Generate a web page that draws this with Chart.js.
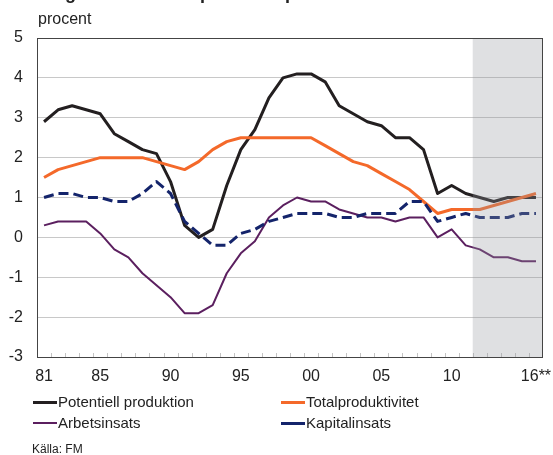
<!DOCTYPE html>
<html lang="sv">
<head>
<meta charset="UTF-8">
<title>Potentiell produktion</title>
<style>
body {
  margin: 0;
  background: #fff;
  font-family: "Liberation Sans", Arial, sans-serif;
  color: #222;
}
#wrap {
  position: relative;
  width: 553px;
  height: 455px;
  overflow: hidden;
}
#wrap canvas {
  position: absolute;
  left: 0;
  top: 0;
}
.title {
  position: absolute;
  left: 19px;
  top: -16px;
  font-size: 18px;
  line-height: 18px;
  font-weight: bold;
  white-space: nowrap;
}
.unit {
  position: absolute;
  left: 38px;
  top: 10px;
  font-size: 16px;
}
.legend-item {
  position: absolute;
  font-size: 15px;
  line-height: 18px;
  white-space: nowrap;
}
.legend-item i {
  display: inline-block;
  width: 24px;
  vertical-align: middle;
  margin-right: 1px;
  position: relative;
  top: -1px;
}
.source {
  position: absolute;
  left: 32px;
  top: 442px;
  font-size: 12px;
}
</style>
</head>
<body>
<div id="wrap">
  <canvas id="chart" width="553" height="455"></canvas>
  <div class="title">Bidrag till tillväxten i potentiell produktion</div>
  <div class="unit">procent</div>
  <div class="legend-item" style="left:33px; top:393px;"><i style="border-top:3px solid #231f20;"></i>Potentiell produktion</div>
  <div class="legend-item" style="left:281px; top:393px;"><i style="border-top:3px solid #f4692a;"></i>Totalproduktivitet</div>
  <div class="legend-item" style="left:33px; top:414px;"><i style="border-top:2px solid #5b1f5f;"></i>Arbetsinsats</div>
  <div class="legend-item" style="left:281px; top:414px;"><i style="border-top:3px solid #14246b;"></i>Kapitalinsats</div>
  <div class="source">Källa: FM</div>
</div>

<script src="https://cdn.jsdelivr.net/npm/chart.js"></script>
<script>
// years on the x axis, only some of them get a label
const years = [1981, 1982, 1983, 1984, 1985, 1986, 1987, 1988, 1989, 1990,
               1991, 1992, 1993, 1994, 1995, 1996, 1997, 1998, 1999, 2000,
               2001, 2002, 2003, 2004, 2005, 2006, 2007, 2008, 2009, 2010,
               2011, 2012, 2013, 2014, 2015, 2016];
const tickText = { 1981: '81', 1985: '85', 1990: '90', 1995: '95', 2000: '00', 2005: '05', 2010: '10', 2016: '16**' };
const forecastFrom = 2012;

const potentiell = [2.9, 3.2, 3.3, 3.2, 3.1, 2.6, 2.4, 2.2, 2.1, 1.4,
                    0.3, 0.0, 0.2, 1.3, 2.2, 2.7, 3.5, 4.0, 4.1, 4.1,
                    3.9, 3.3, 3.1, 2.9, 2.8, 2.5, 2.5, 2.2, 1.1, 1.3,
                    1.1, 1.0, 0.9, 1.0, 1.0, 1.0];
const totalprod = [1.5, 1.7, 1.8, 1.9, 2.0, 2.0, 2.0, 2.0, 1.9, 1.8,
                   1.7, 1.9, 2.2, 2.4, 2.5, 2.5, 2.5, 2.5, 2.5, 2.5,
                   2.3, 2.1, 1.9, 1.8, 1.6, 1.4, 1.2, 0.9, 0.6, 0.7,
                   0.7, 0.7, 0.8, 0.9, 1.0, 1.1];
const arbete = [0.3, 0.4, 0.4, 0.4, 0.1, -0.3, -0.5, -0.9, -1.2, -1.5,
                -1.9, -1.9, -1.7, -0.9, -0.4, -0.1, 0.5, 0.8, 1.0, 0.9,
                0.9, 0.7, 0.6, 0.5, 0.5, 0.4, 0.5, 0.5, 0.0, 0.2,
                -0.2, -0.3, -0.5, -0.5, -0.6, -0.6];
const kapital = [1.0, 1.1, 1.1, 1.0, 1.0, 0.9, 0.9, 1.1, 1.4, 1.1,
                 0.4, 0.1, -0.2, -0.2, 0.1, 0.2, 0.4, 0.5, 0.6, 0.6,
                 0.6, 0.5, 0.5, 0.6, 0.6, 0.6, 0.9, 0.9, 0.4, 0.5,
                 0.6, 0.5, 0.5, 0.5, 0.6, 0.6];

// small inner tick marks, grey forecast area and the frame round the plot
const framePlugin = {
  id: 'frame',
  afterDatasetsDraw(chart) {
    const { ctx, chartArea: a, scales: { x } } = chart;
    const step = (a.right - a.left) / years.length;
    ctx.save();
    ctx.strokeStyle = '#c4c4c4';
    ctx.lineWidth = 1;
    for (let i = 1; i < years.length; i++) {
      const px = Math.round(a.left + i * step) + 0.5;
      ctx.beginPath();
      ctx.moveTo(px, a.bottom);
      ctx.lineTo(px, a.bottom - 4);
      ctx.stroke();
    }
    const sx = x.getPixelForValue(years.indexOf(forecastFrom)) - step / 2;
    ctx.fillStyle = 'rgba(150, 153, 160, 0.3)';
    ctx.fillRect(sx, a.top, a.right - sx, a.bottom - a.top);
    ctx.strokeStyle = '#444';
    ctx.lineWidth = 1;
    ctx.strokeRect(Math.round(a.left) + 0.5, Math.round(a.top) + 0.5,
                   Math.round(a.right - a.left) - 1, Math.round(a.bottom - a.top));
    ctx.restore();
  }
};

Chart.defaults.font.family = '"Liberation Sans", Arial, sans-serif';
Chart.defaults.color = '#222';

new Chart(document.getElementById('chart'), {
  type: 'line',
  data: {
    labels: years,
    datasets: [
      { label: 'Potentiell produktion', data: potentiell, borderColor: '#231f20', borderWidth: 3, order: 2 },
      { label: 'Totalproduktivitet', data: totalprod, borderColor: '#f4692a', borderWidth: 3, order: 1 },
      { label: 'Arbetsinsats', data: arbete, borderColor: '#5b1f5f', borderWidth: 2, order: 3 },
      { label: 'Kapitalinsats', data: kapital, borderColor: '#14246b', borderWidth: 3, borderDash: [10, 5], order: 0 }
    ]
  },
  options: {
    responsive: false,
    animation: false,
    events: [],
    elements: {
      point: { radius: 0 },
      line: { tension: 0, borderCapStyle: 'butt', borderJoinStyle: 'round' }
    },
    layout: { padding: { top: 38, right: 10, bottom: 65, left: 0 } },
    plugins: {
      legend: { display: false },
      tooltip: { enabled: false }
    },
    scales: {
      x: {
        offset: true,
        grid: { display: false, drawTicks: false },
        border: { display: false },
        afterFit: s => { s.height = 33; s.paddingRight = 0; s.paddingLeft = 0; },
        ticks: {
          autoSkip: false,
          maxRotation: 0,
          padding: 10,
          font: { size: 16 },
          callback: (v, i) => tickText[years[i]] || ''
        }
      },
      y: {
        min: -3,
        max: 5,
        afterFit: s => { s.width = 37; },
        grid: { color: '#c8c8c8', drawTicks: false },
        border: { display: false },
        ticks: { stepSize: 1, padding: 14, font: { size: 16 } }
      }
    }
  },
  plugins: [framePlugin]
});
</script>
</body>
</html>
